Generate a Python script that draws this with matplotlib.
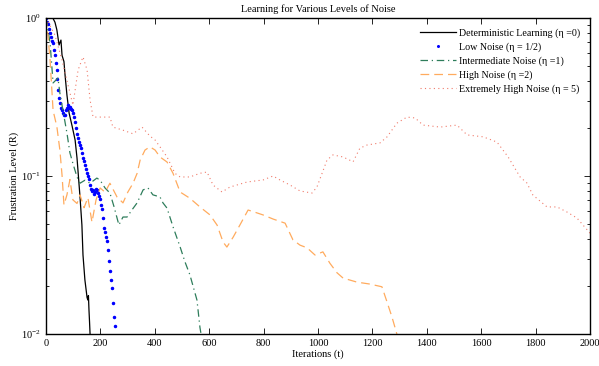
import matplotlib
matplotlib.use("Agg")
import matplotlib.pyplot as plt
import numpy as np
from matplotlib.ticker import LogLocator, NullFormatter, MultipleLocator

plt.rcParams['font.family'] = ['Liberation Serif', 'DejaVu Serif']
plt.rcParams['mathtext.fontset'] = 'stix'

title = "Learning for Various Levels of Noise"
xlabel = "Iterations (t)"
ylabel = "Frustration Level (R)"
labels = ["Deterministic Learning (\u03b7 =0)", "Low Noise (\u03b7 = 1/2)",
          "Intermediate Noise (\u03b7 =1)", "High Noise (\u03b7 =2)",
          "Extremely High Noise (\u03b7 = 5)"]

det_x = [0, 25, 33, 40, 48, 55, 59, 66, 70, 77, 85, 96, 107, 114, 118, 125, 132, 136, 143, 151, 154, 156, 158, 160, 162]
det_y = [1.0, 1.0, 0.94, 0.84, 0.675, 0.725, 0.58, 0.53, 0.436, 0.325, 0.25, 0.207, 0.169, 0.13, 0.106, 0.0738, 0.049, 0.0316, 0.022, 0.017, 0.0164, 0.0175, 0.0142, 0.012, 0.0100]

low_x = [0, 4, 7, 11, 15, 19, 22, 26, 29, 33, 37, 40, 42, 44, 48, 51, 55, 59, 62, 66, 70, 73, 77, 81, 84, 88,
         92, 95, 99, 103, 107, 110, 114, 118, 121, 125, 129, 132, 136, 140, 143, 147, 151, 154, 158, 162, 165,
         169, 173, 176, 180, 184, 187, 191, 195, 199, 202, 206, 210, 213, 217, 221, 224, 228, 232, 235, 239,
         243, 246, 250, 254]
low_y = [1.0, 0.95, 0.92, 0.85, 0.80, 0.76, 0.72, 0.69, 0.63, 0.58, 0.52, 0.47, 0.41, 0.35, 0.31, 0.29, 0.27,
         0.26, 0.25, 0.245, 0.243, 0.26, 0.27, 0.28, 0.27, 0.273, 0.265, 0.262, 0.25, 0.235, 0.22, 0.20, 0.185,
         0.175, 0.165, 0.158, 0.15, 0.14, 0.13, 0.124, 0.118, 0.11, 0.105, 0.1, 0.096, 0.088, 0.083, 0.08,
         0.082, 0.077, 0.079, 0.083, 0.081, 0.078, 0.075, 0.072, 0.066, 0.062, 0.054, 0.047, 0.044, 0.041,
         0.039, 0.034, 0.029, 0.025, 0.022, 0.0195, 0.0158, 0.0128, 0.0112]

mid_x = [0, 15, 26, 44, 51, 62, 77, 88, 99, 114, 125, 143, 162, 187, 199, 217, 235, 250, 268, 283, 298, 316,
         335, 357, 375, 393, 419, 430, 445, 467, 493, 511, 529, 555, 566, 570]
mid_y = [1.0, 0.695, 0.388, 0.417, 0.335, 0.262, 0.187, 0.14, 0.12, 0.0986, 0.090, 0.094, 0.090, 0.097, 0.094,
         0.084, 0.078, 0.064, 0.049, 0.055, 0.055, 0.061, 0.0676, 0.0817, 0.084, 0.076, 0.0737, 0.0676, 0.0626,
         0.0477, 0.0356, 0.0286, 0.0237, 0.0164, 0.011, 0.0100]

high_x = [0, 7, 15, 26, 40, 51, 59, 66, 77, 88, 99, 114, 125, 140, 154, 169, 184, 199, 217, 235, 261, 283, 301,
          320, 335, 346, 364, 382, 401, 419, 445, 467, 493, 529, 566, 603, 629, 651, 665, 688, 713, 743, 768,
          798, 835, 879, 908, 934, 960, 989, 1018, 1044, 1070, 1092, 1143, 1191, 1235, 1254, 1272, 1290]
high_y = [1.0, 0.78, 0.54, 0.26, 0.205, 0.146, 0.101, 0.0656, 0.076, 0.095, 0.0706, 0.067, 0.076, 0.063, 0.073,
          0.051, 0.0706, 0.084, 0.079, 0.090, 0.0737, 0.0676, 0.0792, 0.090, 0.104, 0.126, 0.146, 0.153, 0.146,
          0.132, 0.1226, 0.104, 0.0792, 0.0723, 0.0637, 0.0567, 0.0489, 0.0382, 0.0355, 0.041, 0.049, 0.0609,
          0.059, 0.0567, 0.0534, 0.0503, 0.0394, 0.0365, 0.0351, 0.0316, 0.0331, 0.028, 0.0244, 0.0226, 0.0213,
          0.0207, 0.0199, 0.0159, 0.0128, 0.0100]

ext_x = [0, 33, 59, 81, 99, 118, 136, 151, 162, 173, 199, 224, 235, 246, 283, 320, 353, 382, 401, 419, 445, 463,
         474, 493, 529, 566, 592, 614, 647, 676, 739, 798, 835, 860, 897, 934, 978, 996, 1015, 1033, 1055, 1092,
         1129, 1154, 1180, 1228, 1254, 1290, 1327, 1357, 1386, 1449, 1511, 1548, 1607, 1658, 1699, 1743, 1768,
         1790, 1842, 1879, 1915, 1952, 2000]
ext_y = [1.0, 0.78, 0.54, 0.377, 0.281, 0.469, 0.567, 0.469, 0.303, 0.236, 0.236, 0.236, 0.236, 0.204, 0.195,
         0.185, 0.204, 0.179, 0.169, 0.153, 0.132, 0.114, 0.104, 0.0986, 0.0986, 0.104, 0.106, 0.0877, 0.0792,
         0.0851, 0.0916, 0.0944, 0.1, 0.0944, 0.0877, 0.0804, 0.078, 0.0851, 0.104, 0.126, 0.136, 0.132, 0.123,
         0.150, 0.157, 0.162, 0.177, 0.216, 0.236, 0.233, 0.210, 0.204, 0.210, 0.182, 0.177, 0.164, 0.132,
         0.0986, 0.0903, 0.0758, 0.0637, 0.0637, 0.0592, 0.0542, 0.0435]

fig = plt.figure(figsize=(5.99, 3.66), dpi=100)
ax = fig.add_axes([46/599, 1-334/366, (590-46)/599, (334-18)/366])

ax.plot(det_x, det_y, color='black', lw=0.9, label=labels[0])
ax.plot(low_x, low_y, color='#0000ff', ls='none', marker='.', ms=3.0, label=labels[1])
ax.plot(mid_x, mid_y, color='#2e7d5b', lw=0.9, dashes=(6, 3, 1, 3), label=labels[2])
ax.plot(high_x, high_y, color='#ffab5e', lw=0.9, dashes=(7, 4), label=labels[3])
ax.plot(ext_x, ext_y, color='#f07a6a', lw=0.8, dashes=(1, 3), label=labels[4])

ax.set_yscale('log')
ax.set_xlim(0, 2000)
ax.set_ylim(1e-2, 1e0)
ax.xaxis.set_major_locator(MultipleLocator(200))
ax.yaxis.set_major_locator(LogLocator(base=10, numticks=5))
ax.yaxis.set_minor_locator(LogLocator(base=10, subs=np.arange(2, 10), numticks=20))
ax.yaxis.set_minor_formatter(NullFormatter())
ax.tick_params(which='both', direction='in', top=True, right=True, labelsize=7.5, width=0.6)
ax.tick_params(which='major', length=4)
ax.tick_params(which='minor', length=2)
for s in ax.spines.values():
    s.set_linewidth(1.0)

ax.set_title(title, fontsize=7.5, pad=4)
ax.set_xlabel(xlabel, fontsize=7.5, labelpad=1)
ax.set_ylabel(ylabel, fontsize=7.5, labelpad=2)

ax.legend(loc='upper right', frameon=False, fontsize=7.2, handlelength=3.6, labelspacing=0.45,
          borderaxespad=0.6, handletextpad=0.3, markerscale=0.8)

fig.savefig('out.png', dpi=100)
